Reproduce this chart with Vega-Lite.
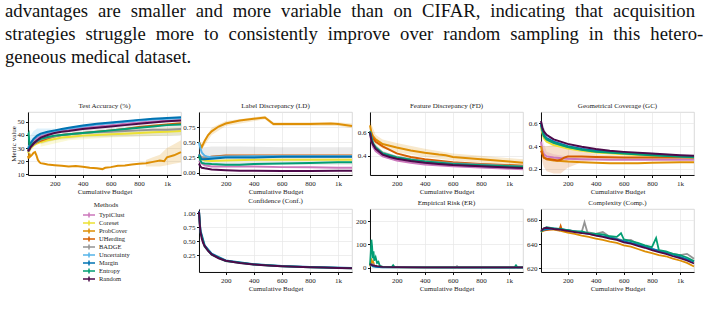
{
  "$schema": "https://vega.github.io/schema/vega-lite/v6.json",
  "padding": {"left": 5, "top": 1, "right": 0, "bottom": 0},
  "title": {
    "text": [
      "advantages \u2009\u200aare \u2009\u200asmaller \u2009\u200aand \u2009\u200amore \u2009\u200avariable \u2009\u200athan \u2009\u200aon \u2009\u200aCIFAR, \u2009\u200aindicating \u2009\u200athat \u2009\u200aacquisition",
      "strategies \u2009\u200astruggle \u2009\u200amore \u2009\u200ato \u2009\u200aconsistently \u2009\u200aimprove \u2009\u200aover \u2009\u200arandom \u2009\u200asampling \u2009\u200ain \u2009\u200athis \u2009\u200ahetero-",
      "geneous medical dataset."
    ],
    "anchor": "start",
    "frame": "group",
    "font": "Liberation Serif",
    "fontSize": 18.7,
    "fontWeight": "normal",
    "lineHeight": 23,
    "color": "#111111",
    "dx": -23,
    "offset": 35
  },
  "datasets": {
    "lines": [
      {"panel":"TA","method":"TypiClust","budget":10,"value":28},{"panel":"TA","method":"TypiClust","budget":20,"value":30},{"panel":"TA","method":"TypiClust","budget":30,"value":32},{"panel":"TA","method":"TypiClust","budget":50,"value":35},{"panel":"TA","method":"TypiClust","budget":75,"value":38},{"panel":"TA","method":"TypiClust","budget":100,"value":39.5},{"panel":"TA","method":"TypiClust","budget":150,"value":41.5},{"panel":"TA","method":"TypiClust","budget":200,"value":42.5},{"panel":"TA","method":"TypiClust","budget":250,"value":43.5},{"panel":"TA","method":"TypiClust","budget":300,"value":44},{"panel":"TA","method":"TypiClust","budget":400,"value":45.5},{"panel":"TA","method":"TypiClust","budget":500,"value":46.5},{"panel":"TA","method":"TypiClust","budget":600,"value":47.5},{"panel":"TA","method":"TypiClust","budget":700,"value":48.5},{"panel":"TA","method":"TypiClust","budget":800,"value":49.5},{"panel":"TA","method":"TypiClust","budget":900,"value":50.2},{"panel":"TA","method":"TypiClust","budget":1000,"value":50.8},{"panel":"TA","method":"TypiClust","budget":1100,"value":51.3},
      {"panel":"TA","method":"Coreset","budget":10,"value":26},{"panel":"TA","method":"Coreset","budget":20,"value":28},{"panel":"TA","method":"Coreset","budget":30,"value":30},{"panel":"TA","method":"Coreset","budget":50,"value":32},{"panel":"TA","method":"Coreset","budget":75,"value":33.5},{"panel":"TA","method":"Coreset","budget":100,"value":34.5},{"panel":"TA","method":"Coreset","budget":150,"value":36},{"panel":"TA","method":"Coreset","budget":200,"value":37},{"panel":"TA","method":"Coreset","budget":250,"value":38},{"panel":"TA","method":"Coreset","budget":300,"value":38.5},{"panel":"TA","method":"Coreset","budget":400,"value":39.5},{"panel":"TA","method":"Coreset","budget":500,"value":40},{"panel":"TA","method":"Coreset","budget":600,"value":40.5},{"panel":"TA","method":"Coreset","budget":700,"value":41},{"panel":"TA","method":"Coreset","budget":800,"value":41.5},{"panel":"TA","method":"Coreset","budget":900,"value":42},{"panel":"TA","method":"Coreset","budget":1000,"value":42.5},{"panel":"TA","method":"Coreset","budget":1100,"value":43},
      {"panel":"TA","method":"ProbCover","budget":10,"value":24},{"panel":"TA","method":"ProbCover","budget":15,"value":22},{"panel":"TA","method":"ProbCover","budget":20,"value":26},{"panel":"TA","method":"ProbCover","budget":25,"value":23.5},{"panel":"TA","method":"ProbCover","budget":30,"value":24},{"panel":"TA","method":"ProbCover","budget":40,"value":25},{"panel":"TA","method":"ProbCover","budget":50,"value":26.5},{"panel":"TA","method":"ProbCover","budget":60,"value":27},{"panel":"TA","method":"ProbCover","budget":70,"value":24.5},{"panel":"TA","method":"ProbCover","budget":80,"value":21},{"panel":"TA","method":"ProbCover","budget":90,"value":19.5},{"panel":"TA","method":"ProbCover","budget":100,"value":18.5},{"panel":"TA","method":"ProbCover","budget":125,"value":18},{"panel":"TA","method":"ProbCover","budget":150,"value":17.5},{"panel":"TA","method":"ProbCover","budget":200,"value":17},{"panel":"TA","method":"ProbCover","budget":250,"value":16.5},{"panel":"TA","method":"ProbCover","budget":300,"value":16},{"panel":"TA","method":"ProbCover","budget":350,"value":16.3},{"panel":"TA","method":"ProbCover","budget":400,"value":15.8},{"panel":"TA","method":"ProbCover","budget":450,"value":15},{"panel":"TA","method":"ProbCover","budget":500,"value":14.7},{"panel":"TA","method":"ProbCover","budget":540,"value":14},{"panel":"TA","method":"ProbCover","budget":560,"value":15},{"panel":"TA","method":"ProbCover","budget":600,"value":15.5},{"panel":"TA","method":"ProbCover","budget":650,"value":16.5},{"panel":"TA","method":"ProbCover","budget":700,"value":16.8},{"panel":"TA","method":"ProbCover","budget":750,"value":17.5},{"panel":"TA","method":"ProbCover","budget":800,"value":18},{"panel":"TA","method":"ProbCover","budget":850,"value":18.5},{"panel":"TA","method":"ProbCover","budget":900,"value":19.5},{"panel":"TA","method":"ProbCover","budget":950,"value":20.5},{"panel":"TA","method":"ProbCover","budget":980,"value":20},{"panel":"TA","method":"ProbCover","budget":1000,"value":23},{"panel":"TA","method":"ProbCover","budget":1050,"value":24.5},{"panel":"TA","method":"ProbCover","budget":1100,"value":27},
      {"panel":"TA","method":"UHerding","budget":10,"value":28},{"panel":"TA","method":"UHerding","budget":20,"value":30},{"panel":"TA","method":"UHerding","budget":30,"value":31},{"panel":"TA","method":"UHerding","budget":50,"value":33},{"panel":"TA","method":"UHerding","budget":75,"value":34.5},{"panel":"TA","method":"UHerding","budget":100,"value":35.5},{"panel":"TA","method":"UHerding","budget":150,"value":37.5},{"panel":"TA","method":"UHerding","budget":200,"value":39},{"panel":"TA","method":"UHerding","budget":250,"value":40},{"panel":"TA","method":"UHerding","budget":300,"value":40.5},{"panel":"TA","method":"UHerding","budget":400,"value":41.5},{"panel":"TA","method":"UHerding","budget":500,"value":42.5},{"panel":"TA","method":"UHerding","budget":600,"value":43.5},{"panel":"TA","method":"UHerding","budget":700,"value":44.5},{"panel":"TA","method":"UHerding","budget":800,"value":46},{"panel":"TA","method":"UHerding","budget":900,"value":47},{"panel":"TA","method":"UHerding","budget":1000,"value":48},{"panel":"TA","method":"UHerding","budget":1100,"value":49},
      {"panel":"TA","method":"BADGE","budget":10,"value":27},{"panel":"TA","method":"BADGE","budget":20,"value":29},{"panel":"TA","method":"BADGE","budget":30,"value":31},{"panel":"TA","method":"BADGE","budget":50,"value":33},{"panel":"TA","method":"BADGE","budget":75,"value":35},{"panel":"TA","method":"BADGE","budget":100,"value":36.5},{"panel":"TA","method":"BADGE","budget":150,"value":38},{"panel":"TA","method":"BADGE","budget":200,"value":39},{"panel":"TA","method":"BADGE","budget":250,"value":40},{"panel":"TA","method":"BADGE","budget":300,"value":40.5},{"panel":"TA","method":"BADGE","budget":400,"value":41.5},{"panel":"TA","method":"BADGE","budget":500,"value":42},{"panel":"TA","method":"BADGE","budget":600,"value":42.5},{"panel":"TA","method":"BADGE","budget":700,"value":43},{"panel":"TA","method":"BADGE","budget":800,"value":43.5},{"panel":"TA","method":"BADGE","budget":900,"value":44},{"panel":"TA","method":"BADGE","budget":1000,"value":44},{"panel":"TA","method":"BADGE","budget":1100,"value":44.5},
      {"panel":"TA","method":"Uncertainty","budget":10,"value":30},{"panel":"TA","method":"Uncertainty","budget":20,"value":32},{"panel":"TA","method":"Uncertainty","budget":30,"value":34},{"panel":"TA","method":"Uncertainty","budget":50,"value":37},{"panel":"TA","method":"Uncertainty","budget":75,"value":39},{"panel":"TA","method":"Uncertainty","budget":100,"value":40.5},{"panel":"TA","method":"Uncertainty","budget":150,"value":42},{"panel":"TA","method":"Uncertainty","budget":200,"value":43},{"panel":"TA","method":"Uncertainty","budget":250,"value":44},{"panel":"TA","method":"Uncertainty","budget":300,"value":45},{"panel":"TA","method":"Uncertainty","budget":400,"value":46.5},{"panel":"TA","method":"Uncertainty","budget":500,"value":48},{"panel":"TA","method":"Uncertainty","budget":600,"value":49},{"panel":"TA","method":"Uncertainty","budget":700,"value":50},{"panel":"TA","method":"Uncertainty","budget":800,"value":51},{"panel":"TA","method":"Uncertainty","budget":900,"value":51.8},{"panel":"TA","method":"Uncertainty","budget":1000,"value":52.3},{"panel":"TA","method":"Uncertainty","budget":1100,"value":52.8},
      {"panel":"TA","method":"Margin","budget":10,"value":29},{"panel":"TA","method":"Margin","budget":20,"value":31},{"panel":"TA","method":"Margin","budget":30,"value":34},{"panel":"TA","method":"Margin","budget":50,"value":37},{"panel":"TA","method":"Margin","budget":75,"value":39.5},{"panel":"TA","method":"Margin","budget":100,"value":41},{"panel":"TA","method":"Margin","budget":150,"value":42.5},{"panel":"TA","method":"Margin","budget":200,"value":43.5},{"panel":"TA","method":"Margin","budget":250,"value":44.5},{"panel":"TA","method":"Margin","budget":300,"value":45.5},{"panel":"TA","method":"Margin","budget":400,"value":47.2},{"panel":"TA","method":"Margin","budget":500,"value":48.5},{"panel":"TA","method":"Margin","budget":600,"value":49.5},{"panel":"TA","method":"Margin","budget":700,"value":50.5},{"panel":"TA","method":"Margin","budget":800,"value":51.5},{"panel":"TA","method":"Margin","budget":900,"value":52.3},{"panel":"TA","method":"Margin","budget":1000,"value":53},{"panel":"TA","method":"Margin","budget":1100,"value":53.5},
      {"panel":"TA","method":"Entropy","budget":10,"value":40},{"panel":"TA","method":"Entropy","budget":15,"value":41},{"panel":"TA","method":"Entropy","budget":20,"value":33},{"panel":"TA","method":"Entropy","budget":30,"value":32},{"panel":"TA","method":"Entropy","budget":50,"value":34},{"panel":"TA","method":"Entropy","budget":75,"value":35.5},{"panel":"TA","method":"Entropy","budget":100,"value":37},{"panel":"TA","method":"Entropy","budget":150,"value":38.5},{"panel":"TA","method":"Entropy","budget":200,"value":39.5},{"panel":"TA","method":"Entropy","budget":250,"value":40},{"panel":"TA","method":"Entropy","budget":300,"value":40.5},{"panel":"TA","method":"Entropy","budget":400,"value":41.5},{"panel":"TA","method":"Entropy","budget":500,"value":42.5},{"panel":"TA","method":"Entropy","budget":600,"value":43.5},{"panel":"TA","method":"Entropy","budget":700,"value":44.5},{"panel":"TA","method":"Entropy","budget":800,"value":45.5},{"panel":"TA","method":"Entropy","budget":900,"value":46.5},{"panel":"TA","method":"Entropy","budget":1000,"value":47.5},{"panel":"TA","method":"Entropy","budget":1100,"value":48},
      {"panel":"TA","method":"Random","budget":10,"value":27.5},{"panel":"TA","method":"Random","budget":20,"value":29},{"panel":"TA","method":"Random","budget":30,"value":31},{"panel":"TA","method":"Random","budget":50,"value":33.5},{"panel":"TA","method":"Random","budget":75,"value":36},{"panel":"TA","method":"Random","budget":100,"value":38},{"panel":"TA","method":"Random","budget":150,"value":40},{"panel":"TA","method":"Random","budget":200,"value":41.5},{"panel":"TA","method":"Random","budget":250,"value":42.5},{"panel":"TA","method":"Random","budget":300,"value":43},{"panel":"TA","method":"Random","budget":400,"value":44.5},{"panel":"TA","method":"Random","budget":500,"value":45.5},{"panel":"TA","method":"Random","budget":600,"value":46.5},{"panel":"TA","method":"Random","budget":700,"value":47.5},{"panel":"TA","method":"Random","budget":800,"value":48.5},{"panel":"TA","method":"Random","budget":900,"value":49.5},{"panel":"TA","method":"Random","budget":1000,"value":50.5},{"panel":"TA","method":"Random","budget":1100,"value":51},

      {"panel":"LD","method":"TypiClust","budget":10,"value":0.2},{"panel":"LD","method":"TypiClust","budget":30,"value":0.15},{"panel":"LD","method":"TypiClust","budget":50,"value":0.12},{"panel":"LD","method":"TypiClust","budget":100,"value":0.1},{"panel":"LD","method":"TypiClust","budget":200,"value":0.1},{"panel":"LD","method":"TypiClust","budget":400,"value":0.1},{"panel":"LD","method":"TypiClust","budget":600,"value":0.09},{"panel":"LD","method":"TypiClust","budget":800,"value":0.09},{"panel":"LD","method":"TypiClust","budget":1000,"value":0.08},{"panel":"LD","method":"TypiClust","budget":1100,"value":0.08},
      {"panel":"LD","method":"Coreset","budget":10,"value":0.25},{"panel":"LD","method":"Coreset","budget":30,"value":0.22},{"panel":"LD","method":"Coreset","budget":50,"value":0.2},{"panel":"LD","method":"Coreset","budget":100,"value":0.19},{"panel":"LD","method":"Coreset","budget":200,"value":0.2},{"panel":"LD","method":"Coreset","budget":400,"value":0.21},{"panel":"LD","method":"Coreset","budget":600,"value":0.21},{"panel":"LD","method":"Coreset","budget":800,"value":0.21},{"panel":"LD","method":"Coreset","budget":1100,"value":0.21},
      {"panel":"LD","method":"ProbCover","budget":10,"value":0.5},{"panel":"LD","method":"ProbCover","budget":20,"value":0.46},{"panel":"LD","method":"ProbCover","budget":30,"value":0.42},{"panel":"LD","method":"ProbCover","budget":50,"value":0.52},{"panel":"LD","method":"ProbCover","budget":75,"value":0.62},{"panel":"LD","method":"ProbCover","budget":100,"value":0.68},{"panel":"LD","method":"ProbCover","budget":150,"value":0.76},{"panel":"LD","method":"ProbCover","budget":200,"value":0.81},{"panel":"LD","method":"ProbCover","budget":300,"value":0.86},{"panel":"LD","method":"ProbCover","budget":400,"value":0.89},{"panel":"LD","method":"ProbCover","budget":480,"value":0.91},{"panel":"LD","method":"ProbCover","budget":540,"value":0.8},{"panel":"LD","method":"ProbCover","budget":600,"value":0.8},{"panel":"LD","method":"ProbCover","budget":800,"value":0.8},{"panel":"LD","method":"ProbCover","budget":950,"value":0.81},{"panel":"LD","method":"ProbCover","budget":1000,"value":0.8},{"panel":"LD","method":"ProbCover","budget":1100,"value":0.77},
      {"panel":"LD","method":"UHerding","budget":10,"value":0.3},{"panel":"LD","method":"UHerding","budget":20,"value":0.27},{"panel":"LD","method":"UHerding","budget":30,"value":0.25},{"panel":"LD","method":"UHerding","budget":50,"value":0.24},{"panel":"LD","method":"UHerding","budget":100,"value":0.26},{"panel":"LD","method":"UHerding","budget":200,"value":0.28},{"panel":"LD","method":"UHerding","budget":400,"value":0.28},{"panel":"LD","method":"UHerding","budget":600,"value":0.28},{"panel":"LD","method":"UHerding","budget":800,"value":0.28},{"panel":"LD","method":"UHerding","budget":1100,"value":0.28},
      {"panel":"LD","method":"BADGE","budget":10,"value":0.28},{"panel":"LD","method":"BADGE","budget":30,"value":0.25},{"panel":"LD","method":"BADGE","budget":50,"value":0.25},{"panel":"LD","method":"BADGE","budget":100,"value":0.26},{"panel":"LD","method":"BADGE","budget":200,"value":0.27},{"panel":"LD","method":"BADGE","budget":400,"value":0.27},{"panel":"LD","method":"BADGE","budget":600,"value":0.27},{"panel":"LD","method":"BADGE","budget":800,"value":0.27},{"panel":"LD","method":"BADGE","budget":1100,"value":0.27},
      {"panel":"LD","method":"Uncertainty","budget":10,"value":0.5},{"panel":"LD","method":"Uncertainty","budget":20,"value":0.4},{"panel":"LD","method":"Uncertainty","budget":30,"value":0.33},{"panel":"LD","method":"Uncertainty","budget":50,"value":0.28},{"panel":"LD","method":"Uncertainty","budget":75,"value":0.26},{"panel":"LD","method":"Uncertainty","budget":100,"value":0.25},{"panel":"LD","method":"Uncertainty","budget":200,"value":0.26},{"panel":"LD","method":"Uncertainty","budget":400,"value":0.27},{"panel":"LD","method":"Uncertainty","budget":600,"value":0.27},{"panel":"LD","method":"Uncertainty","budget":800,"value":0.27},{"panel":"LD","method":"Uncertainty","budget":1100,"value":0.27},
      {"panel":"LD","method":"Margin","budget":10,"value":0.3},{"panel":"LD","method":"Margin","budget":20,"value":0.25},{"panel":"LD","method":"Margin","budget":30,"value":0.22},{"panel":"LD","method":"Margin","budget":50,"value":0.22},{"panel":"LD","method":"Margin","budget":100,"value":0.23},{"panel":"LD","method":"Margin","budget":200,"value":0.25},{"panel":"LD","method":"Margin","budget":400,"value":0.25},{"panel":"LD","method":"Margin","budget":600,"value":0.26},{"panel":"LD","method":"Margin","budget":800,"value":0.26},{"panel":"LD","method":"Margin","budget":1100,"value":0.26},
      {"panel":"LD","method":"Entropy","budget":10,"value":0.28},{"panel":"LD","method":"Entropy","budget":20,"value":0.2},{"panel":"LD","method":"Entropy","budget":30,"value":0.16},{"panel":"LD","method":"Entropy","budget":50,"value":0.15},{"panel":"LD","method":"Entropy","budget":100,"value":0.14},{"panel":"LD","method":"Entropy","budget":200,"value":0.13},{"panel":"LD","method":"Entropy","budget":300,"value":0.13},{"panel":"LD","method":"Entropy","budget":400,"value":0.14},{"panel":"LD","method":"Entropy","budget":600,"value":0.15},{"panel":"LD","method":"Entropy","budget":800,"value":0.16},{"panel":"LD","method":"Entropy","budget":1000,"value":0.17},{"panel":"LD","method":"Entropy","budget":1100,"value":0.17},
      {"panel":"LD","method":"Random","budget":10,"value":0.15},{"panel":"LD","method":"Random","budget":20,"value":0.1},{"panel":"LD","method":"Random","budget":30,"value":0.08},{"panel":"LD","method":"Random","budget":50,"value":0.07},{"panel":"LD","method":"Random","budget":100,"value":0.05},{"panel":"LD","method":"Random","budget":200,"value":0.04},{"panel":"LD","method":"Random","budget":300,"value":0.03},{"panel":"LD","method":"Random","budget":400,"value":0.03},{"panel":"LD","method":"Random","budget":600,"value":0.025},{"panel":"LD","method":"Random","budget":800,"value":0.025},{"panel":"LD","method":"Random","budget":1000,"value":0.03},{"panel":"LD","method":"Random","budget":1100,"value":0.03},

      {"panel":"FD","method":"TypiClust","budget":10,"value":0.58},{"panel":"FD","method":"TypiClust","budget":30,"value":0.48},{"panel":"FD","method":"TypiClust","budget":50,"value":0.44},{"panel":"FD","method":"TypiClust","budget":100,"value":0.395},{"panel":"FD","method":"TypiClust","budget":200,"value":0.36},{"panel":"FD","method":"TypiClust","budget":300,"value":0.34},{"panel":"FD","method":"TypiClust","budget":400,"value":0.325},{"panel":"FD","method":"TypiClust","budget":600,"value":0.31},{"panel":"FD","method":"TypiClust","budget":800,"value":0.3},{"panel":"FD","method":"TypiClust","budget":1100,"value":0.285},
      {"panel":"FD","method":"Coreset","budget":10,"value":0.6},{"panel":"FD","method":"Coreset","budget":30,"value":0.51},{"panel":"FD","method":"Coreset","budget":50,"value":0.475},{"panel":"FD","method":"Coreset","budget":100,"value":0.425},{"panel":"FD","method":"Coreset","budget":200,"value":0.385},{"panel":"FD","method":"Coreset","budget":300,"value":0.365},{"panel":"FD","method":"Coreset","budget":400,"value":0.35},{"panel":"FD","method":"Coreset","budget":600,"value":0.33},{"panel":"FD","method":"Coreset","budget":800,"value":0.32},{"panel":"FD","method":"Coreset","budget":1100,"value":0.305},
      {"panel":"FD","method":"ProbCover","budget":10,"value":0.66},{"panel":"FD","method":"ProbCover","budget":20,"value":0.6},{"panel":"FD","method":"ProbCover","budget":30,"value":0.57},{"panel":"FD","method":"ProbCover","budget":50,"value":0.54},{"panel":"FD","method":"ProbCover","budget":100,"value":0.5},{"panel":"FD","method":"ProbCover","budget":150,"value":0.485},{"panel":"FD","method":"ProbCover","budget":200,"value":0.47},{"panel":"FD","method":"ProbCover","budget":300,"value":0.445},{"panel":"FD","method":"ProbCover","budget":400,"value":0.425},{"panel":"FD","method":"ProbCover","budget":500,"value":0.41},{"panel":"FD","method":"ProbCover","budget":550,"value":0.405},{"panel":"FD","method":"ProbCover","budget":600,"value":0.39},{"panel":"FD","method":"ProbCover","budget":800,"value":0.37},{"panel":"FD","method":"ProbCover","budget":1000,"value":0.35},{"panel":"FD","method":"ProbCover","budget":1100,"value":0.34},
      {"panel":"FD","method":"UHerding","budget":10,"value":0.61},{"panel":"FD","method":"UHerding","budget":30,"value":0.55},{"panel":"FD","method":"UHerding","budget":50,"value":0.52},{"panel":"FD","method":"UHerding","budget":100,"value":0.48},{"panel":"FD","method":"UHerding","budget":150,"value":0.45},{"panel":"FD","method":"UHerding","budget":200,"value":0.42},{"panel":"FD","method":"UHerding","budget":300,"value":0.39},{"panel":"FD","method":"UHerding","budget":400,"value":0.37},{"panel":"FD","method":"UHerding","budget":600,"value":0.345},{"panel":"FD","method":"UHerding","budget":800,"value":0.33},{"panel":"FD","method":"UHerding","budget":1100,"value":0.315},
      {"panel":"FD","method":"BADGE","budget":10,"value":0.61},{"panel":"FD","method":"BADGE","budget":30,"value":0.51},{"panel":"FD","method":"BADGE","budget":50,"value":0.475},{"panel":"FD","method":"BADGE","budget":100,"value":0.425},{"panel":"FD","method":"BADGE","budget":200,"value":0.39},{"panel":"FD","method":"BADGE","budget":300,"value":0.37},{"panel":"FD","method":"BADGE","budget":400,"value":0.355},{"panel":"FD","method":"BADGE","budget":600,"value":0.335},{"panel":"FD","method":"BADGE","budget":800,"value":0.325},{"panel":"FD","method":"BADGE","budget":1100,"value":0.31},
      {"panel":"FD","method":"Uncertainty","budget":10,"value":0.6},{"panel":"FD","method":"Uncertainty","budget":30,"value":0.505},{"panel":"FD","method":"Uncertainty","budget":50,"value":0.47},{"panel":"FD","method":"Uncertainty","budget":100,"value":0.42},{"panel":"FD","method":"Uncertainty","budget":200,"value":0.383},{"panel":"FD","method":"Uncertainty","budget":300,"value":0.362},{"panel":"FD","method":"Uncertainty","budget":400,"value":0.347},{"panel":"FD","method":"Uncertainty","budget":600,"value":0.328},{"panel":"FD","method":"Uncertainty","budget":800,"value":0.316},{"panel":"FD","method":"Uncertainty","budget":1100,"value":0.302},
      {"panel":"FD","method":"Margin","budget":10,"value":0.6},{"panel":"FD","method":"Margin","budget":30,"value":0.5},{"panel":"FD","method":"Margin","budget":50,"value":0.465},{"panel":"FD","method":"Margin","budget":100,"value":0.415},{"panel":"FD","method":"Margin","budget":200,"value":0.38},{"panel":"FD","method":"Margin","budget":300,"value":0.36},{"panel":"FD","method":"Margin","budget":400,"value":0.345},{"panel":"FD","method":"Margin","budget":600,"value":0.325},{"panel":"FD","method":"Margin","budget":800,"value":0.313},{"panel":"FD","method":"Margin","budget":1100,"value":0.3},
      {"panel":"FD","method":"Entropy","budget":10,"value":0.61},{"panel":"FD","method":"Entropy","budget":30,"value":0.505},{"panel":"FD","method":"Entropy","budget":50,"value":0.47},{"panel":"FD","method":"Entropy","budget":100,"value":0.42},{"panel":"FD","method":"Entropy","budget":200,"value":0.385},{"panel":"FD","method":"Entropy","budget":300,"value":0.365},{"panel":"FD","method":"Entropy","budget":400,"value":0.35},{"panel":"FD","method":"Entropy","budget":600,"value":0.33},{"panel":"FD","method":"Entropy","budget":800,"value":0.318},{"panel":"FD","method":"Entropy","budget":1100,"value":0.305},
      {"panel":"FD","method":"Random","budget":10,"value":0.6},{"panel":"FD","method":"Random","budget":20,"value":0.53},{"panel":"FD","method":"Random","budget":30,"value":0.5},{"panel":"FD","method":"Random","budget":50,"value":0.46},{"panel":"FD","method":"Random","budget":100,"value":0.41},{"panel":"FD","method":"Random","budget":150,"value":0.39},{"panel":"FD","method":"Random","budget":200,"value":0.375},{"panel":"FD","method":"Random","budget":300,"value":0.355},{"panel":"FD","method":"Random","budget":400,"value":0.34},{"panel":"FD","method":"Random","budget":500,"value":0.33},{"panel":"FD","method":"Random","budget":600,"value":0.32},{"panel":"FD","method":"Random","budget":800,"value":0.31},{"panel":"FD","method":"Random","budget":1000,"value":0.3},{"panel":"FD","method":"Random","budget":1100,"value":0.295},

      {"panel":"GC","method":"TypiClust","budget":10,"value":0.44},{"panel":"GC","method":"TypiClust","budget":20,"value":0.36},{"panel":"GC","method":"TypiClust","budget":30,"value":0.33},{"panel":"GC","method":"TypiClust","budget":50,"value":0.31},{"panel":"GC","method":"TypiClust","budget":100,"value":0.3},{"panel":"GC","method":"TypiClust","budget":200,"value":0.29},{"panel":"GC","method":"TypiClust","budget":300,"value":0.285},{"panel":"GC","method":"TypiClust","budget":500,"value":0.28},{"panel":"GC","method":"TypiClust","budget":800,"value":0.28},{"panel":"GC","method":"TypiClust","budget":1100,"value":0.28},
      {"panel":"GC","method":"Coreset","budget":10,"value":0.56},{"panel":"GC","method":"Coreset","budget":30,"value":0.47},{"panel":"GC","method":"Coreset","budget":50,"value":0.44},{"panel":"GC","method":"Coreset","budget":100,"value":0.41},{"panel":"GC","method":"Coreset","budget":200,"value":0.38},{"panel":"GC","method":"Coreset","budget":300,"value":0.36},{"panel":"GC","method":"Coreset","budget":400,"value":0.345},{"panel":"GC","method":"Coreset","budget":600,"value":0.33},{"panel":"GC","method":"Coreset","budget":800,"value":0.315},{"panel":"GC","method":"Coreset","budget":1100,"value":0.3},
      {"panel":"GC","method":"ProbCover","budget":10,"value":0.4},{"panel":"GC","method":"ProbCover","budget":20,"value":0.34},{"panel":"GC","method":"ProbCover","budget":30,"value":0.3},{"panel":"GC","method":"ProbCover","budget":50,"value":0.285},{"panel":"GC","method":"ProbCover","budget":100,"value":0.275},{"panel":"GC","method":"ProbCover","budget":150,"value":0.27},{"panel":"GC","method":"ProbCover","budget":200,"value":0.265},{"panel":"GC","method":"ProbCover","budget":300,"value":0.26},{"panel":"GC","method":"ProbCover","budget":400,"value":0.255},{"panel":"GC","method":"ProbCover","budget":500,"value":0.25},{"panel":"GC","method":"ProbCover","budget":700,"value":0.25},{"panel":"GC","method":"ProbCover","budget":800,"value":0.255},{"panel":"GC","method":"ProbCover","budget":1000,"value":0.26},{"panel":"GC","method":"ProbCover","budget":1100,"value":0.26},
      {"panel":"GC","method":"UHerding","budget":10,"value":0.36},{"panel":"GC","method":"UHerding","budget":20,"value":0.33},{"panel":"GC","method":"UHerding","budget":30,"value":0.3},{"panel":"GC","method":"UHerding","budget":50,"value":0.29},{"panel":"GC","method":"UHerding","budget":75,"value":0.285},{"panel":"GC","method":"UHerding","budget":100,"value":0.28},{"panel":"GC","method":"UHerding","budget":125,"value":0.275},{"panel":"GC","method":"UHerding","budget":150,"value":0.28},{"panel":"GC","method":"UHerding","budget":175,"value":0.3},{"panel":"GC","method":"UHerding","budget":200,"value":0.31},{"panel":"GC","method":"UHerding","budget":300,"value":0.31},{"panel":"GC","method":"UHerding","budget":400,"value":0.305},{"panel":"GC","method":"UHerding","budget":600,"value":0.3},{"panel":"GC","method":"UHerding","budget":800,"value":0.3},{"panel":"GC","method":"UHerding","budget":1100,"value":0.3},
      {"panel":"GC","method":"BADGE","budget":10,"value":0.58},{"panel":"GC","method":"BADGE","budget":30,"value":0.49},{"panel":"GC","method":"BADGE","budget":50,"value":0.46},{"panel":"GC","method":"BADGE","budget":100,"value":0.43},{"panel":"GC","method":"BADGE","budget":200,"value":0.395},{"panel":"GC","method":"BADGE","budget":300,"value":0.37},{"panel":"GC","method":"BADGE","budget":400,"value":0.355},{"panel":"GC","method":"BADGE","budget":600,"value":0.338},{"panel":"GC","method":"BADGE","budget":800,"value":0.323},{"panel":"GC","method":"BADGE","budget":1100,"value":0.305},
      {"panel":"GC","method":"Uncertainty","budget":10,"value":0.59},{"panel":"GC","method":"Uncertainty","budget":30,"value":0.5},{"panel":"GC","method":"Uncertainty","budget":50,"value":0.465},{"panel":"GC","method":"Uncertainty","budget":100,"value":0.435},{"panel":"GC","method":"Uncertainty","budget":200,"value":0.398},{"panel":"GC","method":"Uncertainty","budget":300,"value":0.373},{"panel":"GC","method":"Uncertainty","budget":400,"value":0.357},{"panel":"GC","method":"Uncertainty","budget":600,"value":0.34},{"panel":"GC","method":"Uncertainty","budget":800,"value":0.325},{"panel":"GC","method":"Uncertainty","budget":1100,"value":0.307},
      {"panel":"GC","method":"Margin","budget":10,"value":0.6},{"panel":"GC","method":"Margin","budget":30,"value":0.5},{"panel":"GC","method":"Margin","budget":50,"value":0.47},{"panel":"GC","method":"Margin","budget":100,"value":0.44},{"panel":"GC","method":"Margin","budget":200,"value":0.4},{"panel":"GC","method":"Margin","budget":300,"value":0.375},{"panel":"GC","method":"Margin","budget":400,"value":0.36},{"panel":"GC","method":"Margin","budget":600,"value":0.342},{"panel":"GC","method":"Margin","budget":800,"value":0.327},{"panel":"GC","method":"Margin","budget":1100,"value":0.308},
      {"panel":"GC","method":"Entropy","budget":10,"value":0.59},{"panel":"GC","method":"Entropy","budget":30,"value":0.49},{"panel":"GC","method":"Entropy","budget":50,"value":0.46},{"panel":"GC","method":"Entropy","budget":100,"value":0.43},{"panel":"GC","method":"Entropy","budget":200,"value":0.393},{"panel":"GC","method":"Entropy","budget":300,"value":0.368},{"panel":"GC","method":"Entropy","budget":400,"value":0.352},{"panel":"GC","method":"Entropy","budget":600,"value":0.335},{"panel":"GC","method":"Entropy","budget":800,"value":0.32},{"panel":"GC","method":"Entropy","budget":1100,"value":0.302},
      {"panel":"GC","method":"Random","budget":10,"value":0.62},{"panel":"GC","method":"Random","budget":20,"value":0.56},{"panel":"GC","method":"Random","budget":30,"value":0.53},{"panel":"GC","method":"Random","budget":50,"value":0.5},{"panel":"GC","method":"Random","budget":75,"value":0.48},{"panel":"GC","method":"Random","budget":100,"value":0.46},{"panel":"GC","method":"Random","budget":150,"value":0.44},{"panel":"GC","method":"Random","budget":200,"value":0.42},{"panel":"GC","method":"Random","budget":300,"value":0.395},{"panel":"GC","method":"Random","budget":400,"value":0.375},{"panel":"GC","method":"Random","budget":500,"value":0.36},{"panel":"GC","method":"Random","budget":600,"value":0.35},{"panel":"GC","method":"Random","budget":800,"value":0.335},{"panel":"GC","method":"Random","budget":1000,"value":0.32},{"panel":"GC","method":"Random","budget":1100,"value":0.315},

      {"panel":"Conf","method":"Margin","budget":10,"value":1.04},{"panel":"Conf","method":"Margin","budget":20,"value":0.7},{"panel":"Conf","method":"Margin","budget":50,"value":0.43},{"panel":"Conf","method":"Margin","budget":100,"value":0.28},{"panel":"Conf","method":"Margin","budget":200,"value":0.16},{"panel":"Conf","method":"Margin","budget":400,"value":0.094},{"panel":"Conf","method":"Margin","budget":600,"value":0.061},{"panel":"Conf","method":"Margin","budget":800,"value":0.042},{"panel":"Conf","method":"Margin","budget":1100,"value":0.024},
      {"panel":"Conf","method":"Entropy","budget":10,"value":1.02},{"panel":"Conf","method":"Entropy","budget":20,"value":0.67},{"panel":"Conf","method":"Entropy","budget":50,"value":0.41},{"panel":"Conf","method":"Entropy","budget":100,"value":0.265},{"panel":"Conf","method":"Entropy","budget":200,"value":0.152},{"panel":"Conf","method":"Entropy","budget":400,"value":0.087},{"panel":"Conf","method":"Entropy","budget":600,"value":0.055},{"panel":"Conf","method":"Entropy","budget":800,"value":0.038},{"panel":"Conf","method":"Entropy","budget":1100,"value":0.02},
      {"panel":"Conf","method":"Random","budget":10,"value":1.03},{"panel":"Conf","method":"Random","budget":15,"value":0.82},{"panel":"Conf","method":"Random","budget":20,"value":0.68},{"panel":"Conf","method":"Random","budget":30,"value":0.55},{"panel":"Conf","method":"Random","budget":40,"value":0.47},{"panel":"Conf","method":"Random","budget":50,"value":0.42},{"panel":"Conf","method":"Random","budget":75,"value":0.33},{"panel":"Conf","method":"Random","budget":100,"value":0.27},{"panel":"Conf","method":"Random","budget":150,"value":0.2},{"panel":"Conf","method":"Random","budget":200,"value":0.155},{"panel":"Conf","method":"Random","budget":300,"value":0.115},{"panel":"Conf","method":"Random","budget":400,"value":0.09},{"panel":"Conf","method":"Random","budget":500,"value":0.072},{"panel":"Conf","method":"Random","budget":600,"value":0.058},{"panel":"Conf","method":"Random","budget":700,"value":0.048},{"panel":"Conf","method":"Random","budget":800,"value":0.04},{"panel":"Conf","method":"Random","budget":900,"value":0.033},{"panel":"Conf","method":"Random","budget":1000,"value":0.027},{"panel":"Conf","method":"Random","budget":1100,"value":0.022},

      {"panel":"ER","method":"ProbCover","budget":10,"value":5},{"panel":"ER","method":"ProbCover","budget":20,"value":40},{"panel":"ER","method":"ProbCover","budget":25,"value":15},{"panel":"ER","method":"ProbCover","budget":30,"value":30},{"panel":"ER","method":"ProbCover","budget":40,"value":10},{"panel":"ER","method":"ProbCover","budget":60,"value":5},{"panel":"ER","method":"ProbCover","budget":100,"value":2},{"panel":"ER","method":"ProbCover","budget":300,"value":1},{"panel":"ER","method":"ProbCover","budget":600,"value":1},{"panel":"ER","method":"ProbCover","budget":1100,"value":1},
      {"panel":"ER","method":"BADGE","budget":10,"value":8},{"panel":"ER","method":"BADGE","budget":30,"value":15},{"panel":"ER","method":"BADGE","budget":50,"value":5},{"panel":"ER","method":"BADGE","budget":100,"value":2},{"panel":"ER","method":"BADGE","budget":620,"value":1},{"panel":"ER","method":"BADGE","budget":630,"value":6},{"panel":"ER","method":"BADGE","budget":640,"value":1},{"panel":"ER","method":"BADGE","budget":1100,"value":1},
      {"panel":"ER","method":"Margin","budget":10,"value":20},{"panel":"ER","method":"Margin","budget":20,"value":10},{"panel":"ER","method":"Margin","budget":30,"value":5},{"panel":"ER","method":"Margin","budget":50,"value":3},{"panel":"ER","method":"Margin","budget":100,"value":1},{"panel":"ER","method":"Margin","budget":1100,"value":0},
      {"panel":"ER","method":"Entropy","budget":10,"value":10},{"panel":"ER","method":"Entropy","budget":15,"value":60},{"panel":"ER","method":"Entropy","budget":20,"value":120},{"panel":"ER","method":"Entropy","budget":25,"value":90},{"panel":"ER","method":"Entropy","budget":30,"value":40},{"panel":"ER","method":"Entropy","budget":35,"value":70},{"panel":"ER","method":"Entropy","budget":40,"value":30},{"panel":"ER","method":"Entropy","budget":50,"value":45},{"panel":"ER","method":"Entropy","budget":60,"value":20},{"panel":"ER","method":"Entropy","budget":70,"value":25},{"panel":"ER","method":"Entropy","budget":80,"value":8},{"panel":"ER","method":"Entropy","budget":100,"value":3},{"panel":"ER","method":"Entropy","budget":165,"value":2},{"panel":"ER","method":"Entropy","budget":175,"value":10},{"panel":"ER","method":"Entropy","budget":185,"value":2},{"panel":"ER","method":"Entropy","budget":500,"value":1},{"panel":"ER","method":"Entropy","budget":1040,"value":1},{"panel":"ER","method":"Entropy","budget":1050,"value":10},{"panel":"ER","method":"Entropy","budget":1060,"value":1},{"panel":"ER","method":"Entropy","budget":1100,"value":1},
      {"panel":"ER","method":"Random","budget":10,"value":15},{"panel":"ER","method":"Random","budget":20,"value":12},{"panel":"ER","method":"Random","budget":30,"value":10},{"panel":"ER","method":"Random","budget":40,"value":8},{"panel":"ER","method":"Random","budget":60,"value":6},{"panel":"ER","method":"Random","budget":100,"value":3},{"panel":"ER","method":"Random","budget":200,"value":2},{"panel":"ER","method":"Random","budget":400,"value":1},{"panel":"ER","method":"Random","budget":800,"value":1},{"panel":"ER","method":"Random","budget":1100,"value":1},

      {"panel":"Comp","method":"ProbCover","budget":10,"value":650},{"panel":"Comp","method":"ProbCover","budget":50,"value":652.5},{"panel":"Comp","method":"ProbCover","budget":100,"value":652},{"panel":"Comp","method":"ProbCover","budget":150,"value":651},{"panel":"Comp","method":"ProbCover","budget":200,"value":649.5},{"panel":"Comp","method":"ProbCover","budget":250,"value":648.5},{"panel":"Comp","method":"ProbCover","budget":300,"value":647},{"panel":"Comp","method":"ProbCover","budget":350,"value":646},{"panel":"Comp","method":"ProbCover","budget":400,"value":644.5},{"panel":"Comp","method":"ProbCover","budget":450,"value":643.5},{"panel":"Comp","method":"ProbCover","budget":500,"value":642},{"panel":"Comp","method":"ProbCover","budget":550,"value":641},{"panel":"Comp","method":"ProbCover","budget":600,"value":639},{"panel":"Comp","method":"ProbCover","budget":650,"value":638},{"panel":"Comp","method":"ProbCover","budget":700,"value":636},{"panel":"Comp","method":"ProbCover","budget":750,"value":634},{"panel":"Comp","method":"ProbCover","budget":800,"value":632.5},{"panel":"Comp","method":"ProbCover","budget":850,"value":631},{"panel":"Comp","method":"ProbCover","budget":900,"value":630},{"panel":"Comp","method":"ProbCover","budget":950,"value":628},{"panel":"Comp","method":"ProbCover","budget":1000,"value":626.5},{"panel":"Comp","method":"ProbCover","budget":1050,"value":624.5},{"panel":"Comp","method":"ProbCover","budget":1100,"value":621.5},
      {"panel":"Comp","method":"UHerding","budget":10,"value":651},{"panel":"Comp","method":"UHerding","budget":100,"value":652.5},{"panel":"Comp","method":"UHerding","budget":140,"value":651.5},{"panel":"Comp","method":"UHerding","budget":150,"value":655},{"panel":"Comp","method":"UHerding","budget":160,"value":651.5},{"panel":"Comp","method":"UHerding","budget":200,"value":650.5},
      {"panel":"Comp","method":"BADGE","budget":10,"value":651},{"panel":"Comp","method":"BADGE","budget":50,"value":653},{"panel":"Comp","method":"BADGE","budget":100,"value":652.5},{"panel":"Comp","method":"BADGE","budget":200,"value":651.5},{"panel":"Comp","method":"BADGE","budget":300,"value":650},{"panel":"Comp","method":"BADGE","budget":320,"value":658},{"panel":"Comp","method":"BADGE","budget":340,"value":650},{"panel":"Comp","method":"BADGE","budget":400,"value":648.5},{"panel":"Comp","method":"BADGE","budget":450,"value":650},{"panel":"Comp","method":"BADGE","budget":500,"value":646},{"panel":"Comp","method":"BADGE","budget":600,"value":643},{"panel":"Comp","method":"BADGE","budget":650,"value":643.5},{"panel":"Comp","method":"BADGE","budget":700,"value":640},{"panel":"Comp","method":"BADGE","budget":800,"value":636},{"panel":"Comp","method":"BADGE","budget":900,"value":633},{"panel":"Comp","method":"BADGE","budget":1000,"value":631},{"panel":"Comp","method":"BADGE","budget":1050,"value":632},{"panel":"Comp","method":"BADGE","budget":1100,"value":628},
      {"panel":"Comp","method":"Margin","budget":10,"value":651.5},{"panel":"Comp","method":"Margin","budget":100,"value":653},{"panel":"Comp","method":"Margin","budget":200,"value":651.5},{"panel":"Comp","method":"Margin","budget":300,"value":649.5},{"panel":"Comp","method":"Margin","budget":400,"value":647.5},{"panel":"Comp","method":"Margin","budget":500,"value":645.5},{"panel":"Comp","method":"Margin","budget":600,"value":642.5},{"panel":"Comp","method":"Margin","budget":700,"value":639.5},{"panel":"Comp","method":"Margin","budget":800,"value":636},{"panel":"Comp","method":"Margin","budget":900,"value":633},{"panel":"Comp","method":"Margin","budget":1000,"value":629.5},{"panel":"Comp","method":"Margin","budget":1100,"value":625.5},
      {"panel":"Comp","method":"Entropy","budget":10,"value":650},{"panel":"Comp","method":"Entropy","budget":30,"value":653},{"panel":"Comp","method":"Entropy","budget":50,"value":654},{"panel":"Comp","method":"Entropy","budget":100,"value":653},{"panel":"Comp","method":"Entropy","budget":150,"value":652.5},{"panel":"Comp","method":"Entropy","budget":200,"value":651.5},{"panel":"Comp","method":"Entropy","budget":250,"value":650.5},{"panel":"Comp","method":"Entropy","budget":300,"value":650.5},{"panel":"Comp","method":"Entropy","budget":350,"value":649},{"panel":"Comp","method":"Entropy","budget":400,"value":648.5},{"panel":"Comp","method":"Entropy","budget":450,"value":648},{"panel":"Comp","method":"Entropy","budget":500,"value":646.5},{"panel":"Comp","method":"Entropy","budget":550,"value":646},{"panel":"Comp","method":"Entropy","budget":580,"value":649},{"panel":"Comp","method":"Entropy","budget":600,"value":644},{"panel":"Comp","method":"Entropy","budget":650,"value":642.5},{"panel":"Comp","method":"Entropy","budget":700,"value":641},{"panel":"Comp","method":"Entropy","budget":750,"value":639},{"panel":"Comp","method":"Entropy","budget":800,"value":637.5},{"panel":"Comp","method":"Entropy","budget":830,"value":645},{"panel":"Comp","method":"Entropy","budget":850,"value":635},{"panel":"Comp","method":"Entropy","budget":900,"value":634},{"panel":"Comp","method":"Entropy","budget":950,"value":632},{"panel":"Comp","method":"Entropy","budget":1000,"value":631},{"panel":"Comp","method":"Entropy","budget":1050,"value":629},{"panel":"Comp","method":"Entropy","budget":1100,"value":626},
      {"panel":"Comp","method":"Random","budget":10,"value":651},{"panel":"Comp","method":"Random","budget":30,"value":653},{"panel":"Comp","method":"Random","budget":50,"value":653.5},{"panel":"Comp","method":"Random","budget":75,"value":653},{"panel":"Comp","method":"Random","budget":100,"value":652.5},{"panel":"Comp","method":"Random","budget":150,"value":652},{"panel":"Comp","method":"Random","budget":200,"value":651},{"panel":"Comp","method":"Random","budget":250,"value":650},{"panel":"Comp","method":"Random","budget":300,"value":649},{"panel":"Comp","method":"Random","budget":350,"value":648.5},{"panel":"Comp","method":"Random","budget":400,"value":647},{"panel":"Comp","method":"Random","budget":450,"value":646},{"panel":"Comp","method":"Random","budget":500,"value":644.5},{"panel":"Comp","method":"Random","budget":550,"value":643.5},{"panel":"Comp","method":"Random","budget":600,"value":641.5},{"panel":"Comp","method":"Random","budget":650,"value":640.5},{"panel":"Comp","method":"Random","budget":700,"value":638.5},{"panel":"Comp","method":"Random","budget":750,"value":637},{"panel":"Comp","method":"Random","budget":800,"value":635},{"panel":"Comp","method":"Random","budget":850,"value":633.5},{"panel":"Comp","method":"Random","budget":900,"value":632},{"panel":"Comp","method":"Random","budget":950,"value":630},{"panel":"Comp","method":"Random","budget":1000,"value":628.5},{"panel":"Comp","method":"Random","budget":1050,"value":626.5},{"panel":"Comp","method":"Random","budget":1100,"value":624}
    ],
    "bands": [
      {"panel":"TA","method":"Coreset","budget":100,"low":31,"high":37},{"panel":"TA","method":"Coreset","budget":300,"low":36,"high":41},{"panel":"TA","method":"Coreset","budget":600,"low":38,"high":43},{"panel":"TA","method":"Coreset","budget":1100,"low":40,"high":46},
      {"panel":"TA","method":"ProbCover","budget":850,"low":16,"high":21},{"panel":"TA","method":"ProbCover","budget":900,"low":16,"high":23},{"panel":"TA","method":"ProbCover","budget":950,"low":16,"high":25},{"panel":"TA","method":"ProbCover","budget":1000,"low":17,"high":30},{"panel":"TA","method":"ProbCover","budget":1050,"low":18,"high":33},{"panel":"TA","method":"ProbCover","budget":1100,"low":19,"high":36},
      {"panel":"TA","method":"BADGE","budget":100,"low":33,"high":40},{"panel":"TA","method":"BADGE","budget":200,"low":36,"high":43},{"panel":"TA","method":"BADGE","budget":300,"low":37,"high":45},{"panel":"TA","method":"BADGE","budget":400,"low":38,"high":46},{"panel":"TA","method":"BADGE","budget":600,"low":38.5,"high":47},{"panel":"TA","method":"BADGE","budget":800,"low":39,"high":48},{"panel":"TA","method":"BADGE","budget":1000,"low":39.5,"high":49},{"panel":"TA","method":"BADGE","budget":1100,"low":40,"high":49},
      {"panel":"TA","method":"Uncertainty","budget":10,"low":26,"high":36},{"panel":"TA","method":"Uncertainty","budget":30,"low":28,"high":40},{"panel":"TA","method":"Uncertainty","budget":50,"low":31,"high":43},{"panel":"TA","method":"Uncertainty","budget":75,"low":34,"high":45},{"panel":"TA","method":"Uncertainty","budget":100,"low":36,"high":45},{"panel":"TA","method":"Uncertainty","budget":150,"low":39,"high":45},{"panel":"TA","method":"Uncertainty","budget":200,"low":41,"high":45},
      {"panel":"LD","method":"ProbCover","budget":10,"low":0.45,"high":0.55},{"panel":"LD","method":"ProbCover","budget":30,"low":0.38,"high":0.47},{"panel":"LD","method":"ProbCover","budget":100,"low":0.62,"high":0.74},{"panel":"LD","method":"ProbCover","budget":200,"low":0.77,"high":0.85},{"panel":"LD","method":"ProbCover","budget":480,"low":0.88,"high":0.94},{"panel":"LD","method":"ProbCover","budget":540,"low":0.77,"high":0.83},{"panel":"LD","method":"ProbCover","budget":1000,"low":0.77,"high":0.83},{"panel":"LD","method":"ProbCover","budget":1100,"low":0.73,"high":0.81},
      {"panel":"LD","method":"BADGE","budget":10,"low":0.15,"high":0.4},{"panel":"LD","method":"BADGE","budget":50,"low":0.12,"high":0.42},{"panel":"LD","method":"BADGE","budget":100,"low":0.12,"high":0.43},{"panel":"LD","method":"BADGE","budget":300,"low":0.13,"high":0.43},{"panel":"LD","method":"BADGE","budget":600,"low":0.13,"high":0.42},{"panel":"LD","method":"BADGE","budget":1100,"low":0.13,"high":0.42},
      {"panel":"FD","method":"ProbCover","budget":10,"low":0.6,"high":0.7},{"panel":"FD","method":"ProbCover","budget":50,"low":0.5,"high":0.58},{"panel":"FD","method":"ProbCover","budget":100,"low":0.46,"high":0.54},{"panel":"FD","method":"ProbCover","budget":200,"low":0.43,"high":0.51},{"panel":"FD","method":"ProbCover","budget":400,"low":0.39,"high":0.46},{"panel":"FD","method":"ProbCover","budget":600,"low":0.36,"high":0.42},{"panel":"FD","method":"ProbCover","budget":800,"low":0.34,"high":0.4},{"panel":"FD","method":"ProbCover","budget":1100,"low":0.31,"high":0.37},
      {"panel":"FD","method":"Entropy","budget":10,"low":0.56,"high":0.63},{"panel":"FD","method":"Entropy","budget":50,"low":0.43,"high":0.5},{"panel":"FD","method":"Entropy","budget":100,"low":0.39,"high":0.44},{"panel":"FD","method":"Entropy","budget":200,"low":0.355,"high":0.4},{"panel":"FD","method":"Entropy","budget":400,"low":0.325,"high":0.36},{"panel":"FD","method":"Entropy","budget":600,"low":0.305,"high":0.345},{"panel":"FD","method":"Entropy","budget":1100,"low":0.28,"high":0.32},
      {"panel":"GC","method":"TypiClust","budget":10,"low":0.38,"high":0.5},{"panel":"GC","method":"TypiClust","budget":50,"low":0.27,"high":0.35},{"panel":"GC","method":"TypiClust","budget":100,"low":0.27,"high":0.33},{"panel":"GC","method":"TypiClust","budget":200,"low":0.27,"high":0.31},
      {"panel":"GC","method":"UHerding","budget":10,"low":0.3,"high":0.42},{"panel":"GC","method":"UHerding","budget":30,"low":0.22,"high":0.4},{"panel":"GC","method":"UHerding","budget":50,"low":0.18,"high":0.4},{"panel":"GC","method":"UHerding","budget":100,"low":0.16,"high":0.41},{"panel":"GC","method":"UHerding","budget":150,"low":0.16,"high":0.4},{"panel":"GC","method":"UHerding","budget":200,"low":0.21,"high":0.4},{"panel":"GC","method":"UHerding","budget":300,"low":0.26,"high":0.36},{"panel":"GC","method":"UHerding","budget":400,"low":0.28,"high":0.33},{"panel":"GC","method":"UHerding","budget":600,"low":0.285,"high":0.315},{"panel":"GC","method":"UHerding","budget":1100,"low":0.29,"high":0.31},
      {"panel":"GC","method":"Margin","budget":10,"low":0.55,"high":0.64},{"panel":"GC","method":"Margin","budget":50,"low":0.44,"high":0.5},{"panel":"GC","method":"Margin","budget":100,"low":0.41,"high":0.47},{"panel":"GC","method":"Margin","budget":200,"low":0.38,"high":0.42},{"panel":"GC","method":"Margin","budget":400,"low":0.345,"high":0.375},{"panel":"GC","method":"Margin","budget":600,"low":0.325,"high":0.355},{"panel":"GC","method":"Margin","budget":1100,"low":0.29,"high":0.32}
    ]
  },
  "concat": [
    {
      "width": 153, "height": 63,
      "title": "Test Accuracy (%)",
      "encoding": {
        "x": {"field": "budget", "type": "quantitative", "scale": {"domain": [10, 1100], "nice": false, "zero": false}, "axis": {"values": [200, 400, 600, 800, 1000], "labelExpr": "datum.value == 1000 ? '1k' : datum.label", "title": "Cumulative Budget"}},
        "color": {"field": "method", "type": "nominal", "scale": {"domain": ["TypiClust","Coreset","ProbCover","UHerding","BADGE","Uncertainty","Margin","Entropy","Random"], "range": ["#CC78BC","#ECE133","#DE8F05","#D55E00","#949494","#56B4E9","#0173B2","#029E73","#4D0A4A"]}, "legend": null}
      },
      "layer": [
        {"data": {"name": "bands"}, "transform": [{"filter": "datum.panel == 'TA'"}], "mark": {"type": "area", "opacity": 0.2},
         "encoding": {"y": {"field": "low", "type": "quantitative", "scale": {"domain": [9.5, 57.5], "nice": false, "zero": false}, "axis": {"values": [10, 20, 30, 40, 50], "title": "Metric value"}}, "y2": {"field": "high"}}},
        {"data": {"name": "lines"}, "transform": [{"filter": "datum.panel == 'TA'"}], "mark": {"type": "line", "strokeWidth": 2},
         "encoding": {"y": {"field": "value", "type": "quantitative", "scale": {"domain": [9.5, 57.5], "nice": false, "zero": false}, "axis": {"values": [10, 20, 30, 40, 50], "title": "Metric value"}}}}
      ]
    },
    {
      "width": 153, "height": 63,
      "title": "Label Discrepancy (LD)",
      "encoding": {
        "x": {"field": "budget", "type": "quantitative", "scale": {"domain": [10, 1100], "nice": false, "zero": false}, "axis": {"values": [200, 400, 600, 800, 1000], "labelExpr": "datum.value == 1000 ? '1k' : datum.label", "title": "Cumulative Budget"}},
        "color": {"field": "method", "type": "nominal", "scale": {"domain": ["TypiClust","Coreset","ProbCover","UHerding","BADGE","Uncertainty","Margin","Entropy","Random"], "range": ["#CC78BC","#ECE133","#DE8F05","#D55E00","#949494","#56B4E9","#0173B2","#029E73","#4D0A4A"]}, "legend": null}
      },
      "layer": [
        {"data": {"name": "bands"}, "transform": [{"filter": "datum.panel == 'LD'"}], "mark": {"type": "area", "opacity": 0.2},
         "encoding": {"y": {"field": "low", "type": "quantitative", "scale": {"domain": [-0.04, 1.0], "nice": false, "zero": false}, "axis": {"values": [0, 0.25, 0.5, 0.75], "format": ".2f", "title": null}}, "y2": {"field": "high"}}},
        {"data": {"name": "lines"}, "transform": [{"filter": "datum.panel == 'LD'"}], "mark": {"type": "line", "strokeWidth": 2},
         "encoding": {"y": {"field": "value", "type": "quantitative", "scale": {"domain": [-0.04, 1.0], "nice": false, "zero": false}, "axis": {"values": [0, 0.25, 0.5, 0.75], "format": ".2f", "title": null}}}}
      ]
    },
    {
      "width": 153, "height": 63,
      "title": "Feature Discrepancy (FD)",
      "encoding": {
        "x": {"field": "budget", "type": "quantitative", "scale": {"domain": [10, 1100], "nice": false, "zero": false}, "axis": {"values": [200, 400, 600, 800, 1000], "labelExpr": "datum.value == 1000 ? '1k' : datum.label", "title": "Cumulative Budget"}},
        "color": {"field": "method", "type": "nominal", "scale": {"domain": ["TypiClust","Coreset","ProbCover","UHerding","BADGE","Uncertainty","Margin","Entropy","Random"], "range": ["#CC78BC","#ECE133","#DE8F05","#D55E00","#949494","#56B4E9","#0173B2","#029E73","#4D0A4A"]}, "legend": null}
      },
      "layer": [
        {"data": {"name": "bands"}, "transform": [{"filter": "datum.panel == 'FD'"}], "mark": {"type": "area", "opacity": 0.2},
         "encoding": {"y": {"field": "low", "type": "quantitative", "scale": {"domain": [0.235, 0.775], "nice": false, "zero": false}, "axis": {"values": [0.4, 0.6], "format": ".1f", "title": null}}, "y2": {"field": "high"}}},
        {"data": {"name": "lines"}, "transform": [{"filter": "datum.panel == 'FD'"}], "mark": {"type": "line", "strokeWidth": 2},
         "encoding": {"y": {"field": "value", "type": "quantitative", "scale": {"domain": [0.235, 0.775], "nice": false, "zero": false}, "axis": {"values": [0.4, 0.6], "format": ".1f", "title": null}}}}
      ]
    },
    {
      "width": 153, "height": 63,
      "title": "Geometrical Coverage (GC)",
      "encoding": {
        "x": {"field": "budget", "type": "quantitative", "scale": {"domain": [10, 1100], "nice": false, "zero": false}, "axis": {"values": [200, 400, 600, 800, 1000], "labelExpr": "datum.value == 1000 ? '1k' : datum.label", "title": "Cumulative Budget"}},
        "color": {"field": "method", "type": "nominal", "scale": {"domain": ["TypiClust","Coreset","ProbCover","UHerding","BADGE","Uncertainty","Margin","Entropy","Random"], "range": ["#CC78BC","#ECE133","#DE8F05","#D55E00","#949494","#56B4E9","#0173B2","#029E73","#4D0A4A"]}, "legend": null}
      },
      "layer": [
        {"data": {"name": "bands"}, "transform": [{"filter": "datum.panel == 'GC'"}], "mark": {"type": "area", "opacity": 0.2},
         "encoding": {"y": {"field": "low", "type": "quantitative", "scale": {"domain": [0.147, 0.7], "nice": false, "zero": false}, "axis": {"values": [0.2, 0.4, 0.6], "format": ".1f", "title": null}}, "y2": {"field": "high"}}},
        {"data": {"name": "lines"}, "transform": [{"filter": "datum.panel == 'GC'"}], "mark": {"type": "line", "strokeWidth": 2},
         "encoding": {"y": {"field": "value", "type": "quantitative", "scale": {"domain": [0.147, 0.7], "nice": false, "zero": false}, "axis": {"values": [0.2, 0.4, 0.6], "format": ".1f", "title": null}}}}
      ]
    },
    {
      "width": 153, "height": 63,
      "view": {"stroke": null},
      "data": {"name": "lines"},
      "transform": [{"filter": "datum.panel == 'Legend'"}],
      "mark": {"type": "line"},
      "encoding": {
        "x": {"field": "budget", "type": "quantitative", "axis": null},
        "y": {"field": "value", "type": "quantitative", "axis": null},
        "color": {"field": "method", "type": "nominal", "scale": {"domain": ["TypiClust","Coreset","ProbCover","UHerding","BADGE","Uncertainty","Margin","Entropy","Random"], "range": ["#CC78BC","#ECE133","#DE8F05","#D55E00","#949494","#56B4E9","#0173B2","#029E73","#4D0A4A"]},
          "legend": {"orient": "none", "legendX": 54, "legendY": -8, "title": "Methods", "titleAnchor": "middle", "titleFontSize": 7, "titleFontWeight": "normal", "titlePadding": 3, "labelFontSize": 6.5, "labelOffset": 3, "symbolType": "M-1,0L1,0M0,-0.4L0,0.4", "symbolSize": 144, "symbolStrokeWidth": 1.5, "clipHeight": 8, "rowPadding": 0}}
      }
    },
    {
      "width": 153, "height": 63,
      "title": "Confidence (Conf.)",
      "encoding": {
        "x": {"field": "budget", "type": "quantitative", "scale": {"domain": [10, 1100], "nice": false, "zero": false}, "axis": {"values": [200, 400, 600, 800, 1000], "labelExpr": "datum.value == 1000 ? '1k' : datum.label", "title": "Cumulative Budget"}},
        "color": {"field": "method", "type": "nominal", "scale": {"domain": ["TypiClust","Coreset","ProbCover","UHerding","BADGE","Uncertainty","Margin","Entropy","Random"], "range": ["#CC78BC","#ECE133","#DE8F05","#D55E00","#949494","#56B4E9","#0173B2","#029E73","#4D0A4A"]}, "legend": null}
      },
      "layer": [
        {"data": {"name": "lines"}, "transform": [{"filter": "datum.panel == 'Conf'"}], "mark": {"type": "line", "strokeWidth": 2},
         "encoding": {"y": {"field": "value", "type": "quantitative", "scale": {"domain": [-0.046, 1.08], "nice": false, "zero": false}, "axis": {"values": [0.25, 0.5, 0.75, 1.0], "format": ".2f", "title": null}}}}
      ]
    },
    {
      "width": 153, "height": 63,
      "title": "Empirical Risk (ER)",
      "encoding": {
        "x": {"field": "budget", "type": "quantitative", "scale": {"domain": [10, 1100], "nice": false, "zero": false}, "axis": {"values": [200, 400, 600, 800, 1000], "labelExpr": "datum.value == 1000 ? '1k' : datum.label", "title": "Cumulative Budget"}},
        "color": {"field": "method", "type": "nominal", "scale": {"domain": ["TypiClust","Coreset","ProbCover","UHerding","BADGE","Uncertainty","Margin","Entropy","Random"], "range": ["#CC78BC","#ECE133","#DE8F05","#D55E00","#949494","#56B4E9","#0173B2","#029E73","#4D0A4A"]}, "legend": null}
      },
      "layer": [
        {"data": {"name": "lines"}, "transform": [{"filter": "datum.panel == 'ER'"}], "mark": {"type": "line", "strokeWidth": 1.8},
         "encoding": {"y": {"field": "value", "type": "quantitative", "scale": {"domain": [-19, 252], "nice": false, "zero": false}, "axis": {"values": [0, 100, 200], "title": null}}}}
      ]
    },
    {
      "width": 153, "height": 63,
      "title": "Complexity (Comp.)",
      "encoding": {
        "x": {"field": "budget", "type": "quantitative", "scale": {"domain": [10, 1100], "nice": false, "zero": false}, "axis": {"values": [200, 400, 600, 800, 1000], "labelExpr": "datum.value == 1000 ? '1k' : datum.label", "title": "Cumulative Budget"}},
        "color": {"field": "method", "type": "nominal", "scale": {"domain": ["TypiClust","Coreset","ProbCover","UHerding","BADGE","Uncertainty","Margin","Entropy","Random"], "range": ["#CC78BC","#ECE133","#DE8F05","#D55E00","#949494","#56B4E9","#0173B2","#029E73","#4D0A4A"]}, "legend": null}
      },
      "layer": [
        {"data": {"name": "lines"}, "transform": [{"filter": "datum.panel == 'Comp'"}], "mark": {"type": "line", "strokeWidth": 1.8},
         "encoding": {"y": {"field": "value", "type": "quantitative", "scale": {"domain": [617, 669], "nice": false, "zero": false}, "axis": {"values": [620, 640, 660], "title": null}}}}
      ]
    }
  ],
  "columns": 4,
  "spacing": {"row": 34, "column": 18},
  "bounds": "flush",
  "resolve": {"scale": {"x": "independent", "y": "independent", "color": "shared"}, "legend": {"color": "independent"}},
  "config": {
    "font": "Liberation Serif",
    "view": {"stroke": "#cfcfcf", "strokeWidth": 0.8},
    "axis": {"labelFontSize": 7, "titleFontSize": 7, "titleFontWeight": "normal", "labelColor": "#222222", "titleColor": "#222222", "domainColor": "#111111", "domainWidth": 1, "tickColor": "#111111", "tickSize": 2.5, "labelPadding": 1.5, "titlePadding": 1, "labelOverlap": false, "gridColor": "#e6e6e6", "gridWidth": 0.7},
    "title": {"fontSize": 7, "fontWeight": "normal", "offset": 3, "color": "#222222"},
    "legend": {"labelColor": "#222222", "titleColor": "#222222"}
  }
}
